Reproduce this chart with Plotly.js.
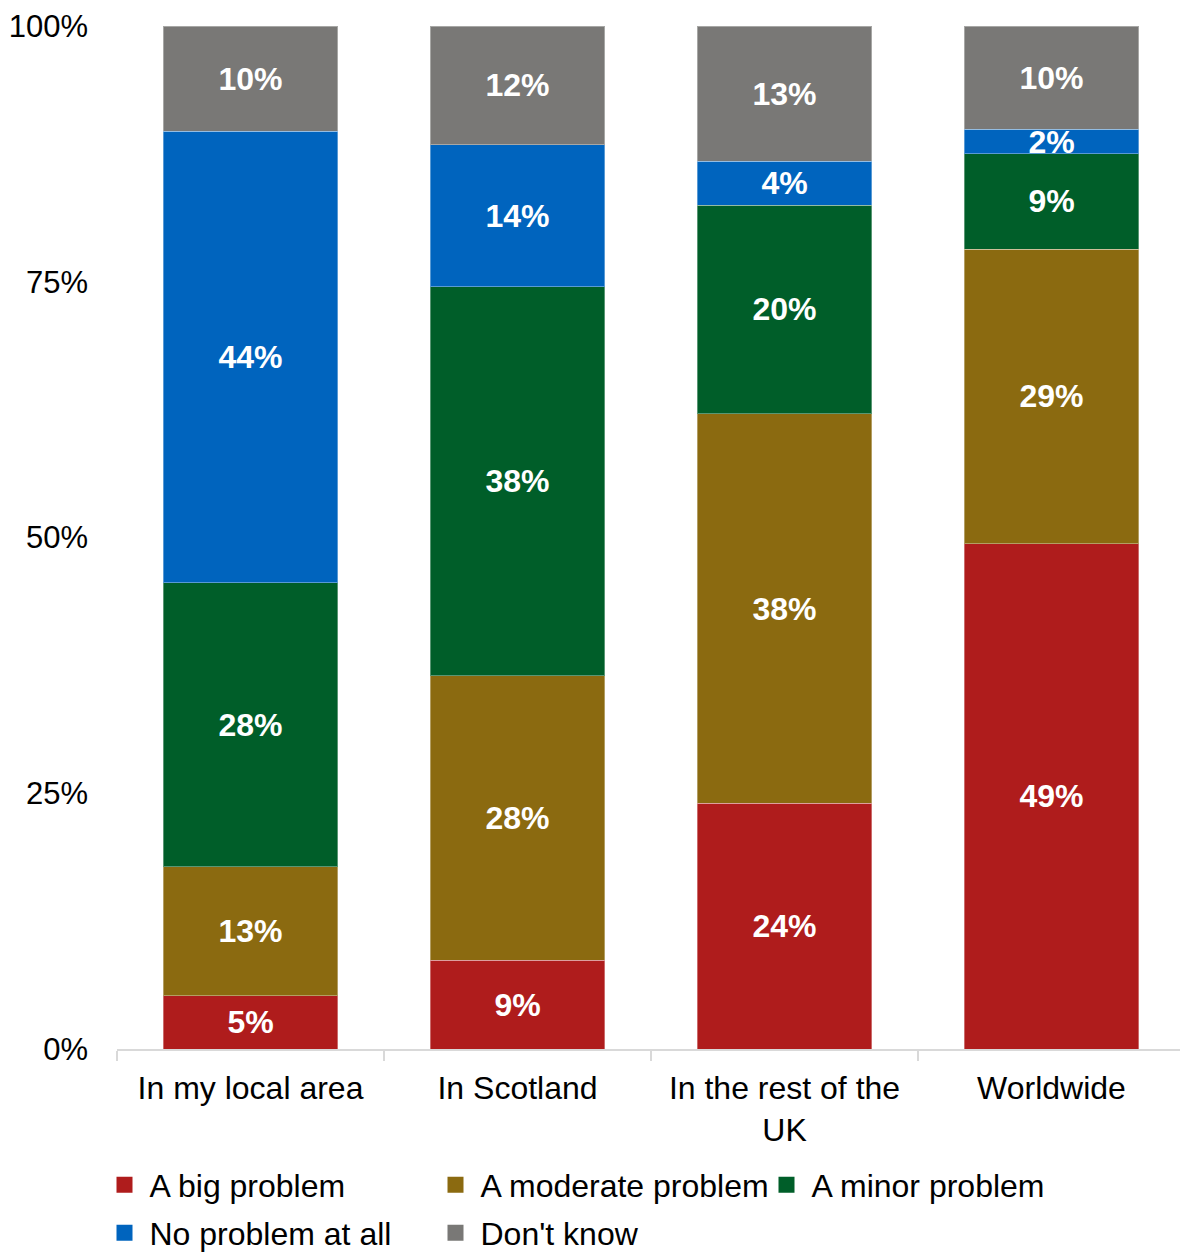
<!DOCTYPE html>
<html>
<head>
<meta charset="utf-8">
<script src="https://cdn.plot.ly/plotly-3.0.1.min.js"></script>
<style>
html,body{margin:0;padding:0;overflow:hidden;background:#fff;}
#chart{width:1185px;height:1252px;}
</style>
</head>
<body>
<div id="chart"></div>
<script>
const categories = ["In my local area", "In Scotland", "In the rest of the<br>UK", "Worldwide"];
const seriesNames = ["A big problem", "A moderate problem", "A minor problem", "No problem at all", "Don't know"];
const bigProblem      = [5.2, 8.7, 24.0, 49.4];
const moderateProblem = [12.6, 27.8, 38.1, 28.8];
const minorProblem    = [27.8, 38.0, 20.4, 9.3];
const noProblem       = [44.1, 13.9, 4.3, 2.4];
const dontKnow        = [10.3, 11.6, 13.2, 10.1];
const yTickVals = [0, 25, 50, 75, 100];

const seriesValues = [bigProblem, moderateProblem, minorProblem, noProblem, dontKnow];
const colors = ["#AF1C1C", "#8B6A10", "#005E29", "#0064BE", "#797876"];
const FONT = "Liberation Sans, Arial, sans-serif";
const W = 1185, H = 1252;

const traces = [];
seriesValues.forEach((vals, i) => {
  traces.push({
    type: "bar",
    x: categories,
    y: vals,
    name: seriesNames[i],
    showlegend: false,
    marker: {color: colors[i], line: {color: "rgba(255,255,255,0.35)", width: 1}},
    texttemplate: "%{y:.0f}%",
    textposition: "inside",
    insidetextanchor: "middle",
    constraintext: "none",
    textangle: 0,
    cliponaxis: false,
    textfont: {family: FONT, size: 32, color: "#ffffff", weight: "bold"},
    hoverinfo: "skip"
  });
});
// legend entries (row 1: first three, row 2: last two)
seriesNames.forEach((n, i) => {
  traces.push({
    type: "scatter",
    mode: "markers",
    x: [null], y: [null],
    name: n,
    legend: i < 3 ? "legend" : "legend2",
    marker: {symbol: "square", size: 16, color: colors[i]},
    showlegend: true,
    hoverinfo: "skip"
  });
});

const legendCommon = {
  orientation: "h",
  traceorder: "normal",
  entrywidth: 276,
  entrywidthmode: "pixels",
  itemwidth: 40,
  xref: "container", yref: "container",
  x: 99.5 / W, xanchor: "left",
  yanchor: "middle",
  font: {family: FONT, size: 32, color: "#000"},
  bgcolor: "rgba(0,0,0,0)",
  borderwidth: 0,
  itemclick: false
};

const layout = {
  width: W,
  height: H,
  margin: {l: 117, r: 0, t: 26, b: 203, pad: 0},
  paper_bgcolor: "#ffffff",
  plot_bgcolor: "#ffffff",
  barmode: "stack",
  bargap: 0.345,
  font: {family: FONT, size: 31, color: "#000"},
  showlegend: true,
  legend: Object.assign({}, legendCommon, {y: 1 - 1185 / H}),
  legend2: Object.assign({}, legendCommon, {y: 1 - 1233 / H}),
  xaxis: {
    type: "category",
    range: [-0.5, 3.5],
    tickson: "boundaries",
    ticks: "outside",
    ticklen: 10,
    tickwidth: 2,
    tickcolor: "#D9D9D9",
    showline: true,
    linecolor: "#D9D9D9",
    linewidth: 2,
    showgrid: false,
    zeroline: false,
    automargin: false,
    tickfont: {family: FONT, size: 32, color: "#000"},
    ticklabelstandoff: 10,
    fixedrange: true
  },
  yaxis: {
    range: [0, 100],
    tickvals: yTickVals,
    ticktext: yTickVals.map(v => v + "%"),
    showgrid: false,
    zeroline: false,
    showline: false,
    ticks: "",
    automargin: false,
    ticklabelstandoff: 28,
    tickfont: {family: FONT, size: 31, color: "#000"},
    fixedrange: true
  }
};

Plotly.newPlot("chart", traces, layout, {displayModeBar: false, staticPlot: true});
</script>
</body>
</html>
